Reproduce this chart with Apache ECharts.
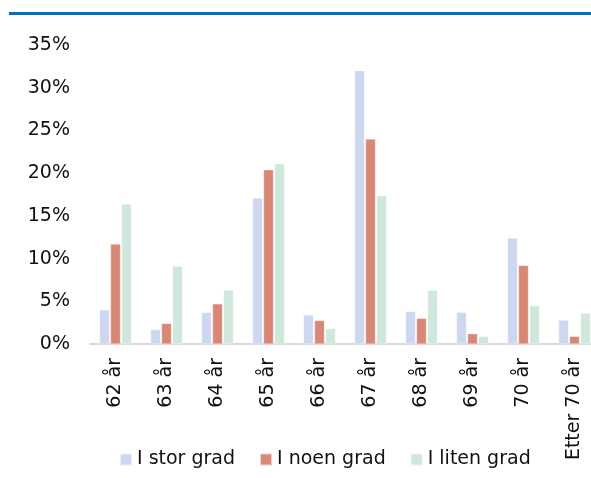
<!DOCTYPE html>
<html><head><meta charset="utf-8">
<script src="https://cdn.jsdelivr.net/npm/echarts@6/dist/echarts.min.js"></script>
<style>html,body{margin:0;padding:0;background:#fff}#c{width:591px;height:478px}</style>
</head><body><div id="c"></div>
<script>
const categories = ['62 år','63 år','64 år','65 år','66 år','67 år','68 år','69 år','70 år','Etter 70 år'];
const seriesNames = ['I stor grad','I noen grad','I liten grad'];
const storGrad  = [4.0, 1.7, 3.7, 17.1, 3.4, 32.0, 3.8, 3.7, 12.4, 2.8];
const noenGrad  = [11.7, 2.4, 4.7, 20.4, 2.75, 24.0, 3.0, 1.2, 9.2, 0.9];
const litenGrad = [16.4, 9.1, 6.3, 21.1, 1.8, 17.35, 6.3, 0.9, 4.5, 3.6];
const yTicks = [0,5,10,15,20,25,30,35];

const colors = ['#CDD8F0','#D98877','#CFE8DB'];
const font = 'DejaVu Sans';
const chart = echarts.init(document.getElementById('c'), null, {renderer:'canvas'});
const mk = (name, data, i) => ({
  name, type:'bar', data, barWidth:10, barGap:'10%',
  itemStyle:{color:colors[i], borderColor:'rgba(255,255,255,0.6)', borderWidth:0.5},
  emphasis:{disabled:true}
});
chart.setOption({
  animation:false,
  graphic:[{type:'rect', shape:{x:9,y:12,width:600,height:3}, style:{fill:'#0070C0'}}],
  grid:{left:90, width:510, top:45, bottom:134, containLabel:false, outerBoundsMode:'none'},
  xAxis:{type:'category', data:categories,
    axisLine:{lineStyle:{color:'#D9D9D9', width:2}},
    axisTick:{show:false},
    axisLabel:{rotate:90, margin:14, fontSize:19, fontFamily:font, color:'#111', interval:0}
  },
  yAxis:{type:'value', min:yTicks[0], max:yTicks[yTicks.length-1], interval:5,
    axisLine:{show:false}, axisTick:{show:false}, splitLine:{show:false},
    axisLabel:{formatter:'{value}%', margin:20, fontSize:19, fontFamily:font, color:'#111'}
  },
  legend:{data:seriesNames, left:114, top:445, itemWidth:12, itemHeight:12, itemGap:24,
    icon:'rect', textStyle:{fontSize:19, fontFamily:font, color:'#111', padding:[0,0,0,0]}},
  series:[mk(seriesNames[0],storGrad,0), mk(seriesNames[1],noenGrad,1), mk(seriesNames[2],litenGrad,2)]
});
</script></body></html>
